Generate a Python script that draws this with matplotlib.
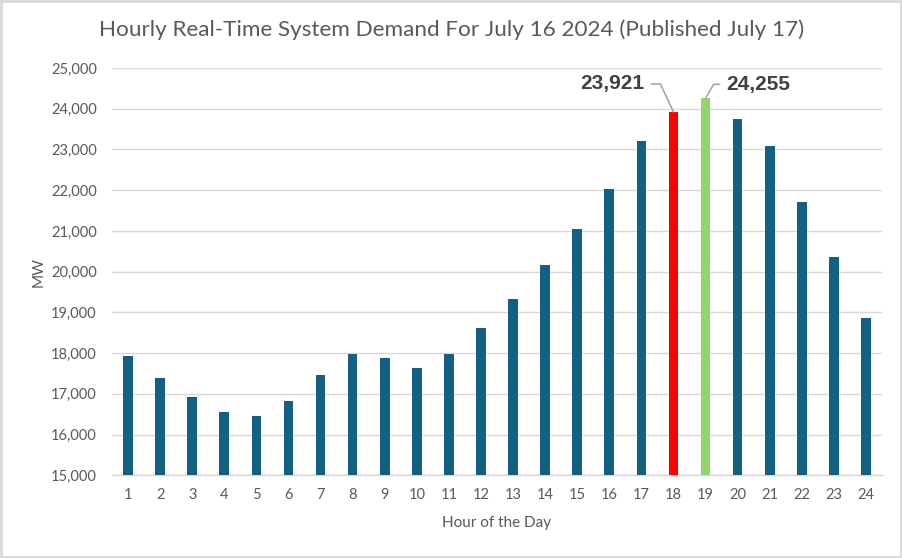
import matplotlib
matplotlib.use("Agg")
import matplotlib.pyplot as plt
from matplotlib.patches import Rectangle

hours = list(range(1, 25))
demand = [17921, 17381, 16931, 16547, 16457, 16825, 17471, 17987, 17872, 17643,
          17971, 18609, 19321, 20155, 21056, 22030, 23208, 23921, 24255, 23740,
          23093, 21718, 20368, 18862]
hour_labels = [str(h) for h in hours]
y_ticks = list(range(15000, 25001, 1000))
title = "Hourly Real-Time System Demand For July 16 2024 (Published July 17)"
x_title = "Hour of the Day"
y_title = "MW"
base_color = "#156082"
highlight_colors = {18: "#FF0000", 19: "#8FD66F"}

plt.rcParams['font.family'] = ['Lato', 'DejaVu Sans']

fig = plt.figure(figsize=(9.03, 5.58), dpi=100)
ax = fig.add_axes([112/903, 1-475.3/558, 770/903, (475.3-68)/558])

colors = [highlight_colors.get(h, base_color) for h in hours]
ax.bar(hours, demand, width=0.3, color=colors, zorder=3)

ax.set_xlim(0.5, 24.5)
ax.set_ylim(15000, 25000)
ax.set_yticks(y_ticks)
ax.set_yticklabels([f"{v:,}" for v in y_ticks])
ax.set_xticks(hours)
ax.set_xticklabels(hour_labels)
ax.grid(axis='y', color='#d9d9d9', linewidth=1.0, zorder=0)
for s in ['top', 'right', 'left']:
    ax.spines[s].set_visible(False)
ax.spines['bottom'].set_color('#d9d9d9')
ax.spines['bottom'].set_linewidth(1.0)
ax.tick_params(axis='both', length=0, colors='#595959', labelsize=10.5)
ax.tick_params(axis='x', pad=9)
ax.tick_params(axis='y', pad=11)

ax.set_xlabel(x_title, color='#595959', fontsize=11, labelpad=10)
ax.set_ylabel(y_title, color='#595959', fontsize=11, labelpad=4)
fig.suptitle(title, color='#595959', fontsize=16.2, x=0.5, y=0.965)

label_font = ['Liberation Sans', 'DejaVu Sans']
i18 = hours.index(18)
i19 = hours.index(19)
ax.annotate(f"{demand[i18]:,}", xy=(hours[i18], demand[i18]),
            xytext=(-29, 28), textcoords='offset pixels',
            ha='right', va='center', fontsize=15, fontweight='bold',
            color='#404040', family=label_font,
            arrowprops=dict(arrowstyle='-', color='#a6a6a6', lw=1.2,
                            connectionstyle='angle,angleA=0,angleB=115,rad=0',
                            shrinkA=3, shrinkB=0))
ax.annotate(f"{demand[i19]:,}", xy=(hours[i19], demand[i19]),
            xytext=(21, 14), textcoords='offset pixels',
            ha='left', va='center', fontsize=15, fontweight='bold',
            color='#404040', family=label_font,
            arrowprops=dict(arrowstyle='-', color='#a6a6a6', lw=1.2,
                            connectionstyle='angle,angleA=0,angleB=60,rad=0',
                            shrinkA=3, shrinkB=0))

fig.patches.append(Rectangle((0.001, 0.002), 0.997, 0.996, transform=fig.transFigure,
                             fill=False, edgecolor='#d9d9d9', linewidth=2))

fig.savefig("out.png", dpi=100)
